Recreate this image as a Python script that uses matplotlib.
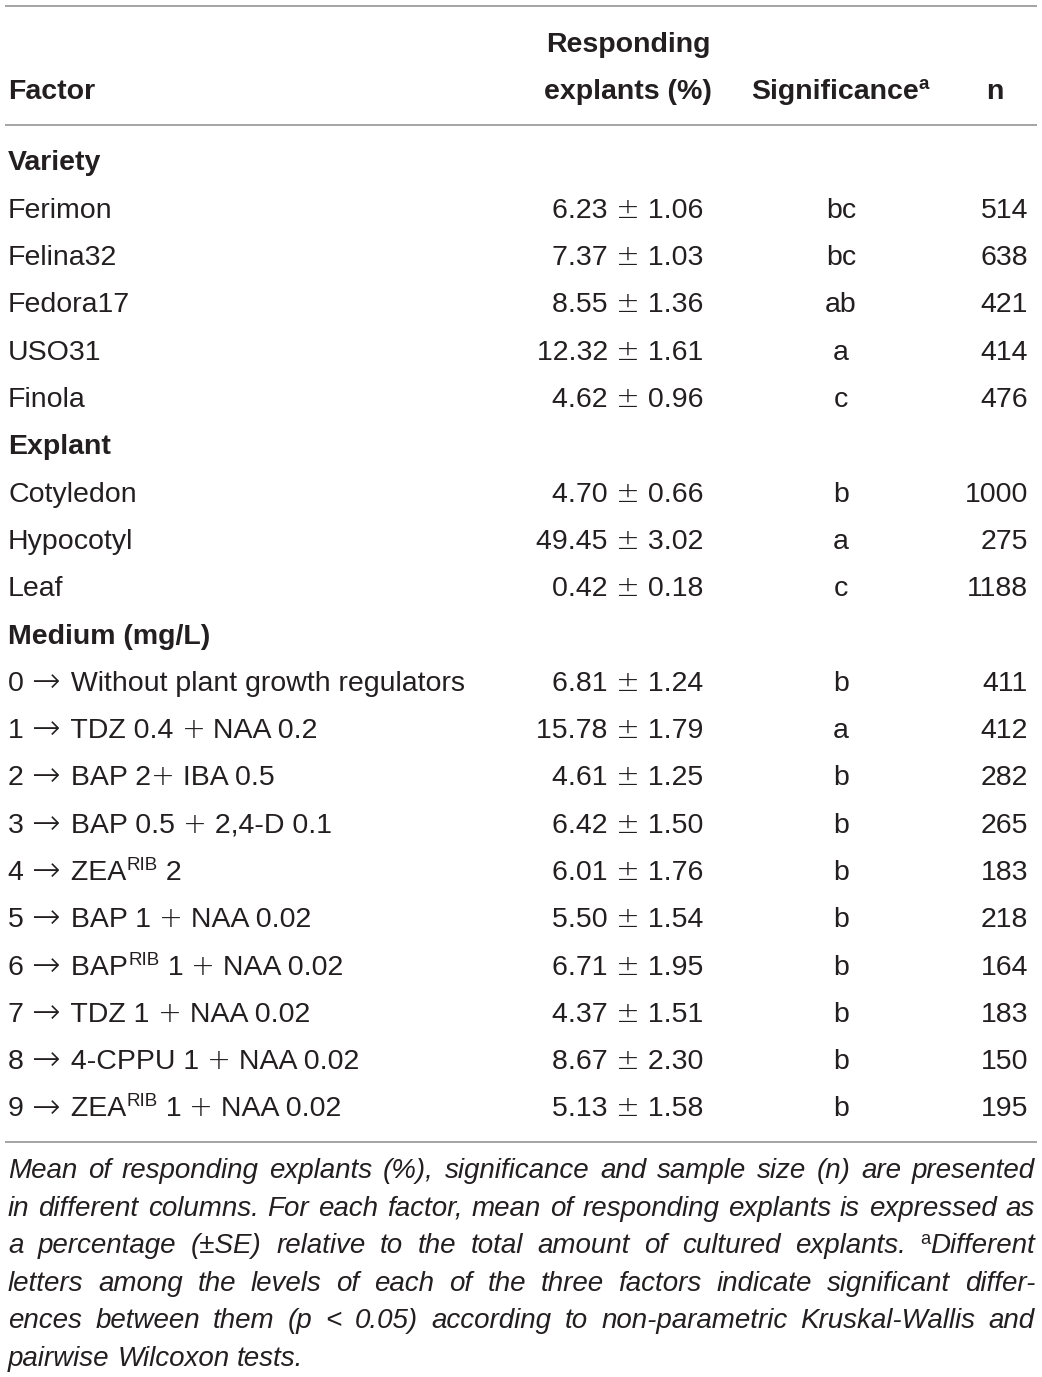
import matplotlib
matplotlib.use("Agg")
import matplotlib.pyplot as plt

plt.rcParams['font.family'] = ['Liberation Sans', 'DejaVu Sans']

# ---- table data ----
header_factor = "Factor"
header_resp = ["Responding", "explants (%)"]
header_sig = [("Significance", False), ("a", True)]
header_n = "n"

sections = ["Variety", "Explant", "Medium (mg/L)"]

variety = ["Ferimon", "Felina32", "Fedora17", "USO31", "Finola"]
variety_mean = [6.23, 7.37, 8.55, 12.32, 4.62]
variety_se = [1.06, 1.03, 1.36, 1.61, 0.96]
variety_sig = ["bc", "bc", "ab", "a", "c"]
variety_n = [514, 638, 421, 414, 476]

explant = ["Cotyledon", "Hypocotyl", "Leaf"]
explant_mean = [4.70, 49.45, 0.42]
explant_se = [0.66, 3.02, 0.18]
explant_sig = ["b", "a", "c"]
explant_n = [1000, 275, 1188]

medium = [
    [("0 \u2192 Without plant growth regulators", False)],
    [("1 \u2192 TDZ 0.4 + NAA 0.2", False)],
    [("2 \u2192 BAP 2+ IBA 0.5", False)],
    [("3 \u2192 BAP 0.5 + 2,4-D 0.1", False)],
    [("4 \u2192 ZEA", False), ("RIB", True), (" 2", False)],
    [("5 \u2192 BAP 1 + NAA 0.02", False)],
    [("6 \u2192 BAP", False), ("RIB", True), (" 1 + NAA 0.02", False)],
    [("7 \u2192 TDZ 1 + NAA 0.02", False)],
    [("8 \u2192 4-CPPU 1 + NAA 0.02", False)],
    [("9 \u2192 ZEA", False), ("RIB", True), (" 1 + NAA 0.02", False)],
]
medium_mean = [6.81, 15.78, 4.61, 6.42, 6.01, 5.50, 6.71, 4.37, 8.67, 5.13]
medium_se = [1.24, 1.79, 1.25, 1.50, 1.76, 1.54, 1.95, 1.51, 2.30, 1.58]
medium_sig = ["b", "a", "b", "b", "b", "b", "b", "b", "b", "b"]
medium_n = [411, 412, 282, 265, 183, 218, 164, 183, 150, 195]

footnote_lines = [
    "Mean of responding explants (%), significance and sample size (n) are presented",
    "in different columns. For each factor, mean of responding explants is expressed as",
    "a percentage (\u00b1SE) relative to the total amount of cultured explants. ^aDifferent",
    "letters among the levels of each of the three factors indicate significant differ-",
    "ences between them (p < 0.05) according to non-parametric Kruskal-Wallis and",
    "pairwise Wilcoxon tests.",
]

# ---- layout ----
W, H = 1042, 1377
INK = "#231f20"
RULE = "#9d9d9d"
FS = 20.5
FS_NOTE = 20
SYMBOLS = "\u2192+\u00b1"

fig = plt.figure(figsize=(W / 100, H / 100), dpi=100)
ax = fig.add_axes([0, 0, 1, 1])
ax.set_xlim(0, W)
ax.set_ylim(H, 0)
ax.axis("off")
renderer = fig.canvas.get_renderer()


def width_of(t):
    return t.get_window_extent(renderer=renderer).width


def split_symbols(s):
    # cut a string so that the math-like signs can use a thinner font
    out, buf = [], ""
    for ch in s:
        if ch in SYMBOLS:
            if buf:
                out.append((buf, False))
            out.append((ch, True))
            buf = ""
        else:
            buf += ch
    if buf:
        out.append((buf, False))
    return out


def rich(x, y, parts, ha="left", size=FS, weight="normal"):
    # parts: list of (text, is_superscript)
    objs = []
    for s, sup in parts:
        if sup:
            objs.append((ax.text(0, y - 10, s, fontsize=size * 0.66, fontweight=weight,
                                 color=INK, va="baseline"), 0))
            continue
        for piece, sym in split_symbols(s):
            if sym:
                big = 1.2 if piece == "\u2192" else 1.0
                t = ax.text(0, y + (1 if big > 1 else 0), piece, fontsize=size * big,
                            family="DejaVu Sans", fontweight="light", color=INK,
                            va="baseline")
                objs.append((t, 3 if big > 1 else 0))
            else:
                t = ax.text(0, y, piece, fontsize=size, fontweight=weight,
                            color=INK, va="baseline")
                objs.append((t, 0))
    widths = [width_of(t) + extra for t, extra in objs]
    total = sum(widths)
    if ha == "center":
        x0 = x - total / 2
    elif ha == "right":
        x0 = x - total
    else:
        x0 = x
    for (t, _), w in zip(objs, widths):
        t.set_x(x0)
        x0 += w
    return total


X_LEFT = 8
X_RESP = 703
X_RESP_HEAD = 628
X_SIG = 841
X_N = 1028
X_N_HEAD = 995

# rules
for yy in (5.5, 124.5, 1141.5):
    ax.plot([5, 1037], [yy, yy], color=RULE, lw=1.3, solid_capstyle="butt")

# header
ax.text(X_LEFT, 99, header_factor, fontsize=FS, fontweight="bold", color=INK, va="baseline")
ax.text(X_RESP_HEAD, 52, header_resp[0], fontsize=FS, fontweight="bold", color=INK,
        va="baseline", ha="center")
ax.text(X_RESP_HEAD, 99, header_resp[1], fontsize=FS, fontweight="bold", color=INK,
        va="baseline", ha="center")
rich(840, 99, header_sig, ha="center", weight="bold")
ax.text(X_N_HEAD, 99, header_n, fontsize=FS, fontweight="bold", color=INK,
        va="baseline", ha="center")

# body rows
rows = []
rows.append(("section", sections[0]))
for i in range(len(variety)):
    rows.append(("data", [(variety[i], False)], variety_mean[i], variety_se[i],
                 variety_sig[i], variety_n[i]))
rows.append(("section", sections[1]))
for i in range(len(explant)):
    rows.append(("data", [(explant[i], False)], explant_mean[i], explant_se[i],
                 explant_sig[i], explant_n[i]))
rows.append(("section", sections[2]))
for i in range(len(medium)):
    rows.append(("data", medium[i], medium_mean[i], medium_se[i],
                 medium_sig[i], medium_n[i]))

y0, dy = 170.5, 47.3
for k, row in enumerate(rows):
    y = y0 + k * dy
    if row[0] == "section":
        ax.text(X_LEFT, y, row[1], fontsize=FS, fontweight="bold", color=INK, va="baseline")
    else:
        _, label, m, se, sig, n = row
        rich(X_LEFT, y, label)
        rich(X_RESP, y, [(f"{m:.2f} \u00b1 {se:.2f}", False)], ha="right")
        ax.text(X_SIG, y, sig, fontsize=FS, color=INK, va="baseline", ha="center")
        ax.text(X_N, y, str(n), fontsize=FS, color=INK, va="baseline", ha="right")

# footnote, justified
NOTE_L, NOTE_R = 8, 1035
ny0, ndy = 1178, 37.6
p1 = ax.text(0, 0, "a b", fontsize=FS_NOTE, fontstyle="italic")
p2 = ax.text(0, 0, "ab", fontsize=FS_NOTE, fontstyle="italic")
note_space = width_of(p1) - width_of(p2)
p1.remove()
p2.remove()

for li, line in enumerate(footnote_lines):
    y = ny0 + li * ndy
    groups = []
    for wd in line.split(" "):
        objs = []
        if wd.startswith("^a"):
            objs.append(ax.text(0, y - 9, "a", fontsize=FS_NOTE * 0.66, color=INK,
                                va="baseline"))
            wd = wd[2:]
        objs.append(ax.text(0, y, wd, fontsize=FS_NOTE, fontstyle="italic", color=INK,
                            va="baseline"))
        groups.append((objs, [width_of(o) for o in objs]))
    total = sum(sum(ws) for _, ws in groups)
    if li == len(footnote_lines) - 1:
        gap = note_space
    else:
        gap = (NOTE_R - NOTE_L - total) / (len(groups) - 1)
    x = NOTE_L
    for objs, ws in groups:
        for o, w in zip(objs, ws):
            o.set_x(x)
            x += w
        x += gap

fig.savefig("out.png", dpi=100)
